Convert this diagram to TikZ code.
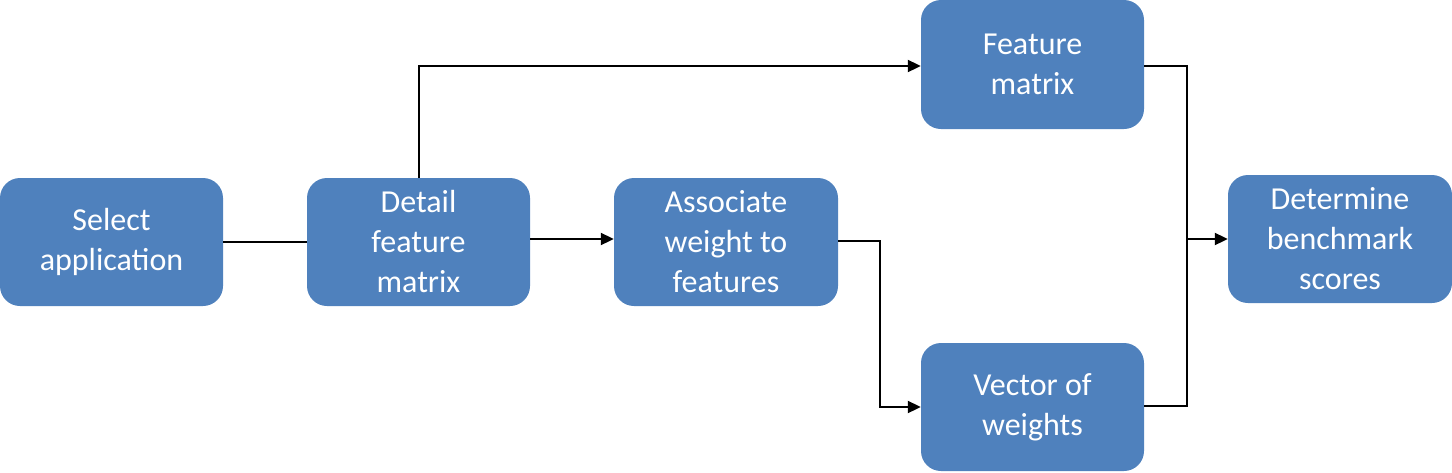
\documentclass[tikz,border=0pt]{standalone}
\usepackage{fontspec}
\setmainfont{Carlito}
\usetikzlibrary{arrows.meta}
\definecolor{boxblue}{HTML}{4F81BD}
\tikzset{
  box/.style={draw=none, fill=boxblue, rounded corners=20pt, text=white,
    minimum width=223pt, minimum height=128pt, inner sep=0pt, align=center,
    font=\fontsize{32}{40}\selectfont},
  conn/.style={draw=black, line width=2pt},
  arr/.style={conn, -{Triangle[length=13pt,width=12pt]}}
}
\begin{document}
\begin{tikzpicture}[x=1pt,y=-1pt]
\useasboundingbox (0,0) rectangle (1452,472);
\node[box] (sel) at (111.5,242) {Select\\application};
\node[box] (det) at (418.5,242) {Detail\\feature\\matrix};
\node[box, minimum width=224pt] (ass) at (726,242) {Associate\\weight to\\features};
\node[box, minimum height=129pt] (fm) at (1032.5,64.5) {Feature\\matrix};
\node[box] (vec) at (1032.5,407) {Vector of\\weights};
\node[box, minimum width=224pt] (dbs) at (1340,239) {Determine\\benchmark\\scores};
\coordinate (bus) at (1187,239);
\draw[conn] (sel.east) -- (det.west);
\draw[arr] (det.east |- 0,239) -- (ass.west |- 0,239);
\draw[arr] (det.north) -- (det.north |- 0,66) -- (fm.west |- 0,66);
\draw[arr] (ass.east |- 0,241) -- (880,241) -- (880,407) -- (vec.west);
\draw[conn] (fm.east |- 0,66) -- (bus |- 0,66) -- (bus);
\draw[conn] (vec.east |- 0,406) -- (bus |- 0,406) -- (bus);
\draw[arr] (bus) -- (dbs.west);
\end{tikzpicture}
\end{document}
